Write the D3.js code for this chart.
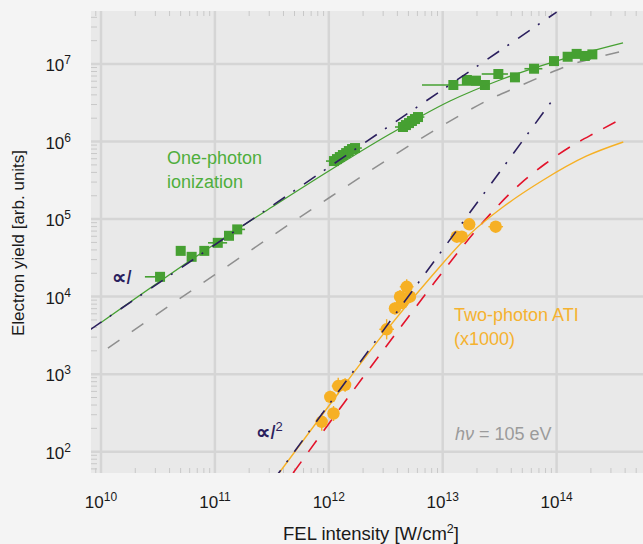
<!DOCTYPE html>
<html>
<head>
<meta charset="utf-8">
<script src="https://cdn.jsdelivr.net/npm/d3@7"></script>
<style>
  html, body { margin: 0; padding: 0; background: #f4f4f4; }
  svg { display: block; font-family: "Liberation Sans", Arial, Helvetica, sans-serif; }
</style>
</head>
<body>
<svg id="chart" width="643" height="544"></svg>
<script>
// ---------- data ----------
// One-photon ionization yield (squares), FEL intensity in W/cm^2
const onePhotonI = [3.30e10, 5.01e10, 6.25e10, 8.07e10, 1.06e11, 1.33e11, 1.57e11,
  1.11e12, 1.18e12, 1.25e12, 1.33e12, 1.42e12, 1.50e12, 1.60e12, 1.70e12,
  4.48e12, 4.76e12, 5.06e12, 5.37e12, 5.71e12, 6.07e12,
  1.24e13, 1.63e13, 1.96e13, 2.35e13, 3.08e13, 4.31e13, 6.34e13,
  9.49e13, 1.25e14, 1.50e14, 1.77e14, 2.06e14];
const onePhotonY = [1.80e4, 3.89e4, 3.26e4, 3.89e4, 4.94e4, 6.09e4, 7.36e4,
  5.60e5, 5.94e5, 6.31e5, 6.70e5, 7.10e5, 7.54e5, 8.00e5, 8.24e5,
  1.54e6, 1.63e6, 1.73e6, 1.84e6, 1.95e6, 2.07e6,
  5.36e6, 6.22e6, 6.10e6, 5.36e6, 7.43e6, 6.73e6, 8.69e6,
  1.09e7, 1.24e7, 1.35e7, 1.27e7, 1.33e7];
// horizontal error bars (intensity range), null where none is drawn
const onePhotonILo = [2.43e10, null, null, null, 8.70e10, null, null,
  9.45e11, null, null, null, null, null, null, null,
  3.81e12, null, null, null, null, null,
  6.58e12, null, null, null, 2.20e13, null, 5.22e13,
  null, null, null, null, null];
const onePhotonIHi = [null, null, null, null, 1.28e11, null, 1.84e11,
  null, null, null, null, null, null, null, 1.95e12,
  null, null, null, null, 6.60e12, 6.90e12,
  2.20e13, null, null, null, 3.74e13, null, 7.50e13,
  null, null, null, null, null];

// Two-photon ATI yield (circles), scaled x1000
const twoPhotonI = [8.67e11, 1.10e12, 1.03e12, 1.21e12, 1.39e12, 3.22e12, 3.81e12,
  4.40e12, 4.22e12, 5.16e12, 4.83e12, 1.33e13, 1.47e13, 1.71e13, 2.92e13];
const twoPhotonY = [243, 311, 509, 703, 725, 3.79e3, 7.06e3,
  8.28e3, 9.98e3, 9.98e3, 1.34e4, 5.93e4, 5.93e4, 8.57e4, 7.98e4];
const twoPhotonIErr = [1.10, 1.12, 1.10, 1.14, 1.12, 1.16, 1.12,
  1.10, 1.12, 1.10, 1.15, 1.14, 1.10, 1.12, 1.16];
const twoPhotonYErr = [1.30, 1.25, 1.20, 1.28, 1.22, 1.35, 1.20,
  1.18, 1.22, 1.20, 1.25, 1.15, 1.12, 1.15, 1.12];

// Model curves
const onePhotonFitI = [1e10, 1e11, 3.17e11, 1e12, 3.44e12, 1.16e13, 3.18e13, 9.89e13, 3.83e14];
const onePhotonFitY = [4.63e3, 4.78e4, 1.43e5, 4.17e5, 1.25e6, 3.33e6, 6.22e6, 1.09e7, 1.87e7];

const onePhotonModelI = [1.15e10, 1e11, 1e12, 8.55e12, 1.47e13, 2.50e13, 4.47e13, 7.92e13, 1.39e14, 2.55e14, 3.83e14];
const onePhotonModelY = [2.17e3, 1.92e4, 1.87e5, 1.41e6, 2.24e6, 3.43e6, 5.01e6, 7.21e6, 1.0e7, 1.27e7, 1.47e7];

const twoPhotonFitI = [3.66e11, 1.03e12, 2.82e12, 7.75e12, 1.74e13, 3.38e13, 7.40e13, 1.84e14, 3.85e14];
const twoPhotonFitY = [53.1, 412, 2.92e3, 1.74e4, 6.43e4, 1.43e5, 3.10e5, 6.52e5, 9.87e5];

const twoPhotonModelI = [4.86e11, 1.36e12, 4.22e12, 8.55e12, 2.04e13, 4.77e13, 7.91e13, 1.31e14, 2.26e14, 3.83e14];
const twoPhotonModelY = [53.1, 425, 3.94e3, 1.55e4, 7.68e4, 2.83e5, 5.13e5, 8.51e5, 1.33e6, 2.01e6];

// Power laws: proportional to I and to I^2
const linearI = [8e9, 1e14];
const linearY = [3.73e3, 4.67e7];
const quadI = [3.2e11, 1e14];
const quadY = [41.3, 4.04e6];

// Axis ticks
const xTickExp = [10, 11, 12, 13, 14];
const yTickExp = [2, 3, 4, 5, 6, 7];

// ---------- layout ----------
const W = 643, H = 544;
const plot = { left: 91, right: 643, top: 11, bottom: 473 };

const x = d3.scaleLog().domain([Math.pow(10, 9.9122), Math.pow(10, 14.7586)]).range([plot.left, plot.right]);
const y = d3.scaleLog().domain([Math.pow(10, 1.7253), Math.pow(10, 7.6835)]).range([plot.bottom, plot.top]);

const colors = {
  green: "#46a032",
  greenText: "#4fae3c",
  orange: "#f6b024",
  orangeText: "#f5b230",
  navy: "#2b1f5e",
  red: "#e3132b",
  gray: "#8f8f8f",
  grid: "#d5d5d5",
  tick: "#c8c8c8",
  panel: "#e9e9e9"
};

const svg = d3.select("#chart");
svg.append("rect").attr("width", W).attr("height", H).attr("fill", "#f4f4f4");

svg.append("defs").append("clipPath").attr("id", "plotClip")
  .append("rect")
  .attr("x", plot.left).attr("y", plot.top)
  .attr("width", plot.right - plot.left).attr("height", plot.bottom - plot.top);

svg.append("rect")
  .attr("x", plot.left).attr("y", plot.top)
  .attr("width", plot.right - plot.left).attr("height", plot.bottom - plot.top)
  .attr("fill", colors.panel);

// minor ticks (2..9 per decade)
const minorX = [], minorY = [];
for (let e = 9; e <= 14; e++) for (let m = 2; m <= 9; m++) {
  const v = m * Math.pow(10, e);
  if (v > x.domain()[0] && v < x.domain()[1]) minorX.push(v);
}
for (let e = 1; e <= 7; e++) for (let m = 2; m <= 9; m++) {
  const v = m * Math.pow(10, e);
  if (v > y.domain()[0] && v < y.domain()[1]) minorY.push(v);
}
const gTicks = svg.append("g").attr("stroke", colors.tick).attr("stroke-width", 1);
minorX.forEach(v => {
  gTicks.append("line").attr("x1", x(v)).attr("x2", x(v)).attr("y1", plot.top).attr("y2", plot.top + 5);
  gTicks.append("line").attr("x1", x(v)).attr("x2", x(v)).attr("y1", plot.bottom).attr("y2", plot.bottom - 5);
});
minorY.forEach(v => {
  gTicks.append("line").attr("x1", plot.left).attr("x2", plot.left + 6).attr("y1", y(v)).attr("y2", y(v));
});

// major grid
const gGrid = svg.append("g").attr("stroke", colors.grid).attr("stroke-width", 2.5);
xTickExp.forEach(e => {
  const v = Math.pow(10, e);
  gGrid.append("line").attr("x1", x(v)).attr("x2", x(v)).attr("y1", plot.top).attr("y2", plot.bottom);
});
yTickExp.forEach(e => {
  const v = Math.pow(10, e);
  gGrid.append("line").attr("x1", plot.left).attr("x2", plot.right).attr("y1", y(v)).attr("y2", y(v));
});

// tick labels with superscript exponents
const tickFont = 17;
xTickExp.forEach(e => {
  const t = svg.append("text")
    .attr("x", x(Math.pow(10, e))).attr("y", 508)
    .attr("text-anchor", "middle").attr("font-size", tickFont).attr("fill", "#1a1a1a");
  t.append("tspan").text("10");
  t.append("tspan").attr("dy", -7).attr("font-size", 12).text(e);
});
yTickExp.forEach(e => {
  const t = svg.append("text")
    .attr("x", 71).attr("y", y(Math.pow(10, e)) + 7)
    .attr("text-anchor", "end").attr("font-size", tickFont).attr("fill", "#1a1a1a");
  t.append("tspan").text("10");
  t.append("tspan").attr("dy", -7).attr("font-size", 12).text(e);
});

// axis titles
const xt = svg.append("text").attr("x", 371).attr("y", 540)
  .attr("text-anchor", "middle").attr("font-size", 18.5).attr("fill", "#1a1a1a");
xt.append("tspan").text("FEL intensity [W/cm");
xt.append("tspan").attr("dy", -7).attr("font-size", 12.5).text("2");
xt.append("tspan").attr("dy", 7).text("]");

svg.append("text")
  .attr("transform", "translate(24,243) rotate(-90)")
  .attr("text-anchor", "middle").attr("font-size", 17).attr("fill", "#1a1a1a")
  .text("Electron yield [arb. units]");

// ---------- curves ----------
const gPlot = svg.append("g").attr("clip-path", "url(#plotClip)");
const zip = (a, b) => a.map((v, i) => [v, b[i]]);
const line = d3.line().x(d => x(d[0])).y(d => y(d[1])).curve(d3.curveMonotoneX);
const straight = d3.line().x(d => x(d[0])).y(d => y(d[1]));

function drawPath(data, gen, color, width, dash) {
  gPlot.append("path").datum(data)
    .attr("d", gen)
    .attr("fill", "none")
    .attr("stroke", color)
    .attr("stroke-width", width)
    .attr("stroke-dasharray", dash || null);
}

drawPath(zip(onePhotonModelI, onePhotonModelY), line, colors.gray, 1.5, "14,15");
drawPath(zip(twoPhotonModelI, twoPhotonModelY), line, colors.red, 1.6, "14,12");

// horizontal error bars, one-photon
onePhotonI.forEach((v, i) => {
  const lo = onePhotonILo[i], hi = onePhotonIHi[i];
  if (lo === null && hi === null) return;
  gPlot.append("line")
    .attr("x1", x(lo === null ? v : lo)).attr("x2", x(hi === null ? v : hi))
    .attr("y1", y(onePhotonY[i])).attr("y2", y(onePhotonY[i]))
    .attr("stroke", colors.green).attr("stroke-width", 1.6);
});
// error bars, two-photon
twoPhotonI.forEach((v, i) => {
  const cx = x(v), cy = y(twoPhotonY[i]);
  gPlot.append("line")
    .attr("x1", x(v / twoPhotonIErr[i])).attr("x2", x(v * twoPhotonIErr[i]))
    .attr("y1", cy).attr("y2", cy)
    .attr("stroke", colors.orange).attr("stroke-width", 1.4);
  gPlot.append("line")
    .attr("x1", cx).attr("x2", cx)
    .attr("y1", y(twoPhotonY[i] / twoPhotonYErr[i])).attr("y2", y(twoPhotonY[i] * twoPhotonYErr[i]))
    .attr("stroke", colors.orange).attr("stroke-width", 1.4);
});

// markers
const sq = 10;
gPlot.selectAll("rect.one").data(zip(onePhotonI, onePhotonY)).enter()
  .append("rect").attr("class", "one")
  .attr("x", d => x(d[0]) - sq / 2).attr("y", d => y(d[1]) - sq / 2)
  .attr("width", sq).attr("height", sq)
  .attr("fill", colors.green);

gPlot.selectAll("circle.two").data(zip(twoPhotonI, twoPhotonY)).enter()
  .append("circle").attr("class", "two")
  .attr("cx", d => x(d[0])).attr("cy", d => y(d[1])).attr("r", 6.2)
  .attr("fill", colors.orange);

// fits on top of markers
drawPath(zip(onePhotonFitI, onePhotonFitY), line, colors.green, 1.3);
drawPath(zip(twoPhotonFitI, twoPhotonFitY), line, colors.orange, 1.4);
drawPath(zip(linearI, linearY), straight, colors.navy, 1.6, "14,10,2,11");
drawPath(zip(quadI, quadY), straight, colors.navy, 1.6, "14,10,2,11");

// ---------- annotations ----------
const annFont = 18;
svg.append("text").attr("x", 167).attr("y", 164).attr("font-size", annFont).attr("fill", colors.greenText).text("One-photon");
svg.append("text").attr("x", 167).attr("y", 188).attr("font-size", annFont).attr("fill", colors.greenText).text("ionization");
svg.append("text").attr("x", 454).attr("y", 321).attr("font-size", annFont).attr("fill", colors.orangeText).text("Two-photon ATI");
svg.append("text").attr("x", 454).attr("y", 345).attr("font-size", annFont).attr("fill", colors.orangeText).text("(x1000)");

const pI = svg.append("text").attr("x", 112).attr("y", 284).attr("font-size", 20).attr("fill", colors.navy);
pI.append("tspan").attr("font-weight", "bold").text("\u221D");
pI.append("tspan").attr("font-style", "italic").text("I");

const pI2 = svg.append("text").attr("x", 256).attr("y", 439).attr("font-size", 20).attr("fill", colors.navy);
pI2.append("tspan").attr("font-weight", "bold").text("\u221D");
pI2.append("tspan").attr("font-style", "italic").text("I");
pI2.append("tspan").attr("dy", -8).attr("font-size", 13).text("2");

const hv = svg.append("text").attr("x", 455).attr("y", 440).attr("font-size", annFont).attr("fill", "#9b9b9b");
hv.append("tspan").attr("font-style", "italic").text("h\u03BD");
hv.append("tspan").text(" = 105 eV");
</script>
</body>
</html>
